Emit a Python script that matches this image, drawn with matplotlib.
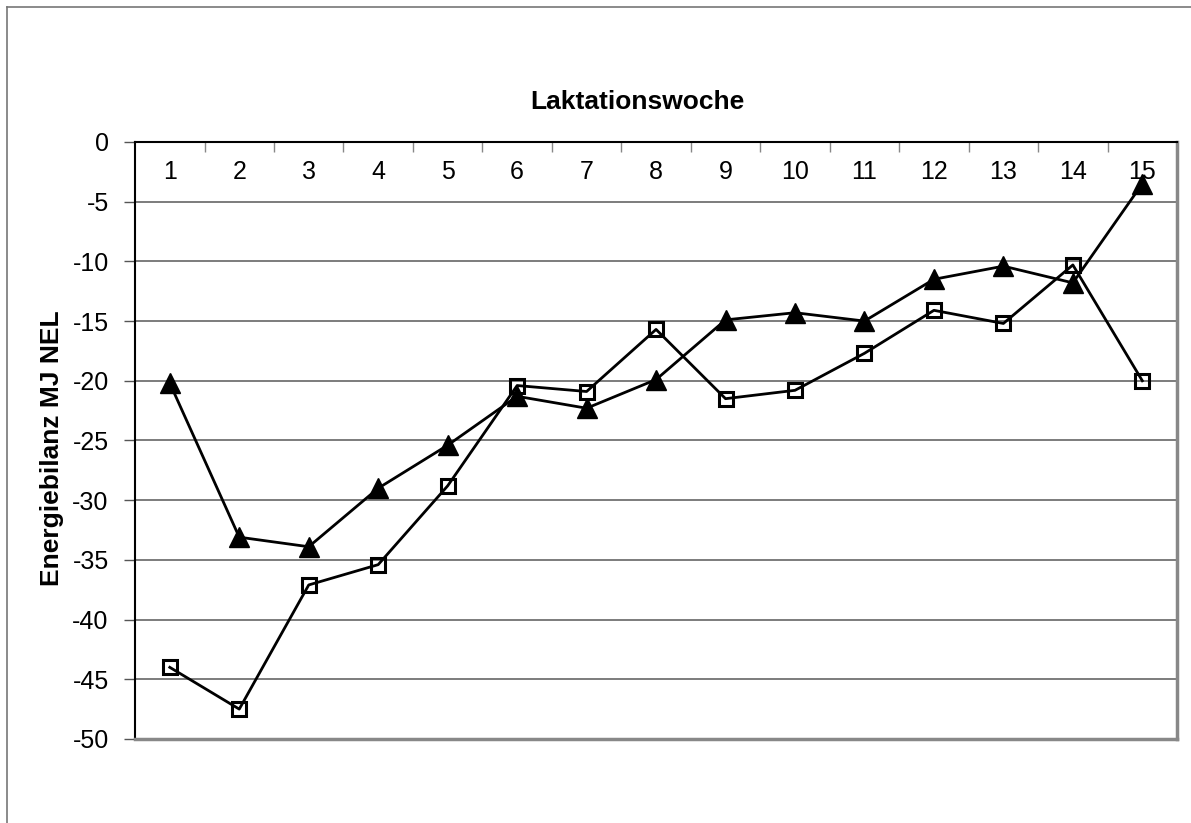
import matplotlib.pyplot as plt
from matplotlib.lines import Line2D

plt.rcParams['font.family'] = ['Liberation Sans', 'DejaVu Sans']
plt.rcParams['axes.unicode_minus'] = False

# Laktationswochen 1-15
weeks = list(range(1, 16))
week_labels = [str(w) for w in weeks]

# Energiebilanz (MJ NEL) je Woche
bilanz_dreieck = [-20.2, -33.1, -33.9, -29.0, -25.4, -21.3, -22.3, -19.9,
                  -14.9, -14.3, -15.0, -11.5, -10.4, -11.8, -3.5]
bilanz_quadrat = [-44.0, -47.5, -37.1, -35.4, -28.8, -20.4, -20.9, -15.7,
                  -21.5, -20.8, -17.7, -14.1, -15.2, -10.3, -20.0]

y_ticks = list(range(0, -55, -5))

fig = plt.figure(figsize=(11.91, 8.23), dpi=100)
ax = fig.add_axes([0.1134, 0.1021, 0.8749, 0.7254])

ax.plot(weeks, bilanz_quadrat, color='black', lw=2.0, marker='s', ms=10,
        mfc='none', mec='black', mew=2.2, zorder=3)
ax.plot(weeks, bilanz_dreieck, color='black', lw=2.0, marker='^', ms=15,
        mfc='black', mec='black', zorder=4)

ax.set_xlim(0.5, 15.5)
ax.set_ylim(-50, 0)

# Kategorienachse liegt oben bei 0, Beschriftung innerhalb der Fläche
ax.xaxis.set_ticks_position('top')
ax.set_xticks(weeks)
ax.set_xticklabels(week_labels)
ax.set_xticks([w + 0.5 for w in weeks[:-1]], minor=True)
ax.tick_params(axis='x', which='major', length=0, pad=-30, labelsize=18,
               labeltop=True, labelbottom=False)
ax.tick_params(axis='x', which='minor', direction='in', length=7,
               width=1, color='#888888')

ax.set_yticks(y_ticks)
ax.tick_params(axis='y', direction='out', length=8, width=1, pad=11,
               labelsize=18, color='#555555')
ax.yaxis.grid(True, color='#666666', lw=1.2)
ax.set_axisbelow(True)

for side in ('left', 'top'):
    ax.spines[side].set_color('black')
    ax.spines[side].set_linewidth(1.5)
for side in ('right', 'bottom'):
    ax.spines[side].set_color('#888888')
    ax.spines[side].set_linewidth(2.5)

fig.text(637 / 1191, 1 - 102 / 823, 'Laktationswoche', ha='center',
         va='center', fontsize=19, fontweight='bold')
fig.text(52 / 1191, 1 - 448 / 823, 'Energiebilanz MJ NEL', ha='center',
         va='center', rotation=90, fontsize=19, fontweight='bold')

# Rahmen des Diagrammbereichs (oben und links sichtbar)
fx, fy = 7 / 1191, 1 - 7 / 823
fig.add_artist(Line2D([fx, fx], [0, fy], color='#777777', lw=1.2))
fig.add_artist(Line2D([fx, 1], [fy, fy], color='#777777', lw=1.2))

fig.savefig('out.png', dpi=100)
